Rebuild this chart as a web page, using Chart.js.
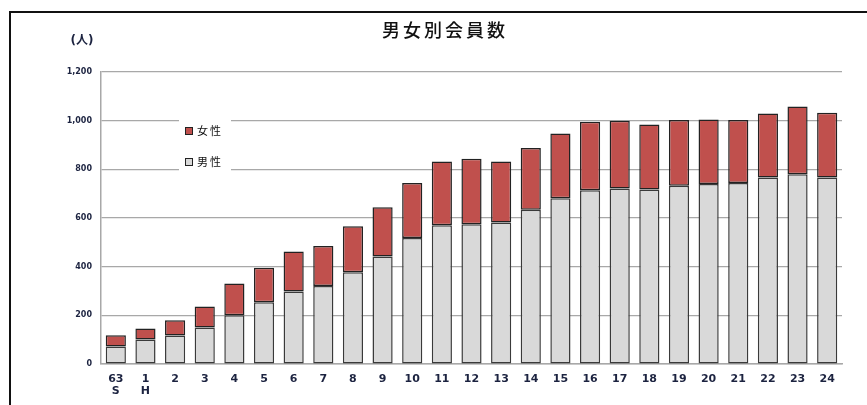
<!DOCTYPE html>
<html>
<head>
<meta charset="utf-8">
<script src="https://cdn.jsdelivr.net/npm/chart.js@4.4.1/dist/chart.umd.min.js"></script>
<style>
  html, body { margin: 0; padding: 0; background: #fff; }
  #wrap { width: 867px; height: 405px; position: relative; }
</style>
</head>
<body>
<div id="wrap"><canvas id="c"></canvas></div>
<script>
// 年度 (S63, H1 .. H24)
const years = [['63', 'S'], ['1', 'H'], '2', '3', '4', '5', '6', '7', '8', '9', '10', '11', '12',
  '13', '14', '15', '16', '17', '18', '19', '20', '21', '22', '23', '24'];
const male = [72, 101, 117, 150, 200, 254, 298, 321, 377, 442, 518, 570, 574, 581, 634,
  681, 714, 721, 717, 733, 740, 744, 766, 780, 766];
const female = [46, 45, 63, 86, 131, 142, 164, 164, 189, 202, 226, 262, 270, 251, 254,
  266, 282, 279, 267, 270, 265, 259, 263, 278, 267];
const yTicks = [0, 200, 400, 600, 800, 1000, 1200];

const TEXT = '#1c2340';
const GRID = '#a8a8a8';

// frame, title, unit label and the in-plot legend
const decor = {
  id: 'decor',
  beforeDraw(chart) {
    const ctx = chart.ctx;
    ctx.save();
    ctx.fillStyle = '#fff';
    ctx.fillRect(0, 0, chart.width, chart.height);
    ctx.strokeStyle = '#111';
    ctx.lineWidth = 2;
    ctx.strokeRect(10, 12, chart.width + 20, chart.height + 20);
    ctx.restore();
  },
  afterDraw(chart) {
    const ctx = chart.ctx;
    ctx.save();
    ctx.fillStyle = '#111';
    ctx.textAlign = 'center';
    ctx.textBaseline = 'middle';
    ctx.font = '500 18px "Noto Sans CJK JP"';
    ctx.letterSpacing = '3px';
    ctx.fillText('男女別会員数', 445, 30);
    ctx.letterSpacing = '0px';
    ctx.font = 'bold 12px "DejaVu Sans", "Noto Sans CJK JP"';
    ctx.fillStyle = TEXT;
    ctx.fillText('(人)', 82, 41);

    // legend box sits on top of the grid
    ctx.fillStyle = '#fff';
    ctx.fillRect(179, 116, 52, 58);
    const items = [chart.data.datasets[1], chart.data.datasets[0]];
    items.forEach((ds, i) => {
      const y = 131 + i * 31;
      ctx.fillStyle = ds.backgroundColor;
      ctx.fillRect(185.5, y - 3.5, 7, 7);
      ctx.strokeStyle = '#222';
      ctx.lineWidth = 1;
      ctx.strokeRect(185.5, y - 3.5, 7, 7);
      ctx.fillStyle = '#111';
      ctx.textAlign = 'left';
      ctx.font = '11px "Noto Sans CJK JP"';
      ctx.letterSpacing = '2px';
      ctx.fillText(ds.label, 197, y);
    });
    ctx.restore();
  }
};

new Chart(document.getElementById('c'), {
  type: 'bar',
  data: {
    labels: years,
    datasets: [
      { label: '男性', data: male, backgroundColor: '#d9d9d9', borderColor: '#3a3a3a',
        borderWidth: 1.5, borderSkipped: false, barPercentage: 0.68, categoryPercentage: 1 },
      { label: '女性', data: female, backgroundColor: '#c0504d', borderColor: '#222',
        borderWidth: 1.5, borderSkipped: false, barPercentage: 0.68, categoryPercentage: 1 },
    ],
  },
  options: {
    responsive: true,
    maintainAspectRatio: false,
    animation: false,
    layout: { padding: { top: 72, right: 25, left: 0, bottom: 0 } },
    plugins: { legend: { display: false }, tooltip: { enabled: false }, title: { display: false } },
    scales: {
      x: {
        stacked: true,
        grid: { display: false, drawTicks: false },
        border: { color: GRID, width: 1.5 },
        ticks: { color: TEXT, padding: 9, maxRotation: 0, autoSkip: false,
          font: { family: 'DejaVu Sans', weight: 'bold', size: 11, lineHeight: 1.1 } },
        afterFit: s => { s.height = 41; },
      },
      y: {
        stacked: true,
        min: 0, max: 1200,
        afterBuildTicks: s => { s.ticks = yTicks.map(v => ({ value: v })); },
        grid: { color: GRID, lineWidth: 1.2, drawTicks: false },
        border: { color: GRID, width: 1.5 },
        ticks: { color: TEXT, padding: 9,
          font: { family: 'DejaVu Sans', weight: 'bold', size: 8 },
          callback: v => v.toLocaleString('en-US') },
        afterFit: s => { s.width = 101; },
      },
    },
  },
  plugins: [decor],
});
</script>
</body>
</html>
